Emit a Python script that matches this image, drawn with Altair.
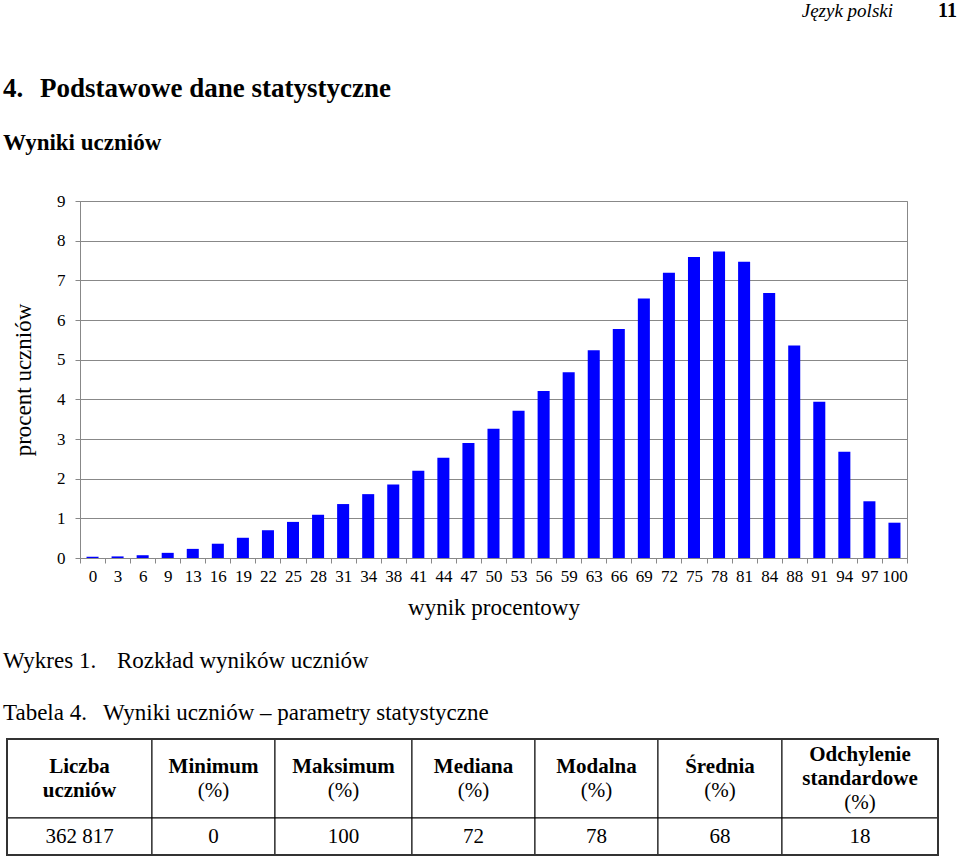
import altair as alt
import pandas as pd

# ---- data ----
scores = [0, 3, 6, 9, 13, 16, 19, 22, 25, 28, 31, 34, 38, 41, 44, 47, 50,
          53, 56, 59, 63, 66, 69, 72, 75, 78, 81, 84, 88, 91, 94, 97, 100]
percent = [0.03, 0.04, 0.07, 0.13, 0.23, 0.36, 0.51, 0.70, 0.91, 1.09, 1.36,
           1.61, 1.85, 2.20, 2.53, 2.90, 3.26, 3.71, 4.21, 4.68, 5.24, 5.77,
           6.54, 7.19, 7.59, 7.73, 7.47, 6.68, 5.36, 3.94, 2.68, 1.43, 0.89]

table_headers = [["Liczba", "uczniów"], ["Minimum"], ["Maksimum"], ["Mediana"],
                 ["Modalna"], ["Średnia"], ["Odchylenie", "standardowe"]]
table_units = ["", "(%)", "(%)", "(%)", "(%)", "(%)", "(%)"]
table_values = ["362 817", "0", "100", "72", "78", "68", "18"]

# ---- layout constants (pixels) ----
FONT = "Liberation Serif"
W, H = 827, 357
PAD = {"left": 80, "top": 201, "right": 53, "bottom": 301}
col_widths = [145, 123, 137, 123, 123, 124, 156]
row_heights = [79, 37]
LINE_H = 24
TABLE_X = [7 - PAD["left"], 938 - PAD["left"]]
TABLE_Y = [739 - PAD["top"], 855 - PAD["top"]]

# ---- bar chart ----
df_bars = pd.DataFrame({"score": scores, "pct": percent})
bars = alt.Chart(df_bars).mark_bar(
    color="#0000FF", width=alt.RelativeBandSize(0.48)
).encode(
    x=alt.X("score:O",
            scale=alt.Scale(paddingInner=0, paddingOuter=0),
            axis=alt.Axis(title="wynik procentowy", labelAngle=0, tickBand="extent",
                          tickSize=5, tickColor="#888", domainColor="#888",
                          labelFont=FONT, labelFontSize=17, labelColor="black",
                          labelPadding=5, labelOverlap=False,
                          titleFont=FONT, titleFontSize=23, titleFontWeight="normal",
                          titleColor="black", titleBaseline="alphabetic",
                          titleY=56)),
    y=alt.Y("pct:Q",
            scale=alt.Scale(domain=[0, 9], nice=False),
            axis=alt.Axis(title="procent uczniów", values=list(range(10)), grid=True,
                          gridColor="#888", gridWidth=1, tickSize=5, tickColor="#888",
                          domainColor="#888", labelFont=FONT, labelFontSize=17,
                          labelColor="black", labelPadding=10,
                          titleFont=FONT, titleFontSize=23, titleFontWeight="normal",
                          titleColor="black", titleAngle=-90,
                          titleBaseline="alphabetic", titleX=-50, titleY=H / 2,
                          titleAlign="center")),
)

# ---- table ----
cells = []
texts = []
x_edges = [0]
for w in col_widths:
    x_edges.append(x_edges[-1] + w)
y_edges = [0, row_heights[0], row_heights[0] + row_heights[1]]
for i in range(len(table_values)):
    x0, x1 = x_edges[i], x_edges[i + 1]
    xc = (x0 + x1) / 2
    cells.append({"x0": x0, "x1": x1, "y0": y_edges[0], "y1": y_edges[1]})
    cells.append({"x0": x0, "x1": x1, "y0": y_edges[1], "y1": y_edges[2]})
    lines = [(t, "bold") for t in table_headers[i]]
    if table_units[i]:
        lines.append((table_units[i], "normal"))
    n = len(lines)
    yc = row_heights[0] / 2
    for k, (t, wgt) in enumerate(lines):
        texts.append({"xc": xc, "yc": yc + (k - (n - 1) / 2) * LINE_H, "t": t, "w": wgt})
    texts.append({"xc": xc, "yc": row_heights[0] + row_heights[1] / 2,
                  "t": table_values[i], "w": "normal"})
df_cells = pd.DataFrame(cells)
df_texts = pd.DataFrame(texts)
df_outer = pd.DataFrame([{"x0": 0, "x1": x_edges[-1], "y0": 0, "y1": y_edges[-1]}])

tx = alt.Scale(domain=[0, x_edges[-1]], range=TABLE_X, nice=False, zero=False)
ty = alt.Scale(domain=[0, y_edges[-1]], range=TABLE_Y, nice=False, zero=False)

table_cells = alt.Chart(df_cells).mark_rect(fill="white", stroke="black", strokeWidth=1).encode(
    x=alt.X("x0:Q", scale=tx, axis=None), x2="x1:Q",
    y=alt.Y("y0:Q", scale=ty, axis=None), y2="y1:Q")
table_outer = alt.Chart(df_outer).mark_rect(fill=None, stroke="#333", strokeWidth=2).encode(
    x=alt.X("x0:Q", scale=tx, axis=None), x2="x1:Q",
    y=alt.Y("y0:Q", scale=ty, axis=None), y2="y1:Q")
table_bold = alt.Chart(df_texts).transform_filter(alt.datum.w == "bold").mark_text(
    font=FONT, fontSize=21, fontWeight="bold", color="black", baseline="middle", align="center"
).encode(x=alt.X("xc:Q", scale=tx, axis=None), y=alt.Y("yc:Q", scale=ty, axis=None), text="t:N")
table_norm = alt.Chart(df_texts).transform_filter(alt.datum.w == "normal").mark_text(
    font=FONT, fontSize=21, color="black", baseline="middle", align="center"
).encode(x=alt.X("xc:Q", scale=tx, axis=None), y=alt.Y("yc:Q", scale=ty, axis=None), text="t:N")


# ---- page texts ----
def label(text, px, py, size, weight="normal", style="normal", align="left"):
    return alt.Chart(alt.Data(values=[{}])).mark_text(
        font=FONT, fontSize=size, fontWeight=weight, fontStyle=style,
        color="black", align=align, baseline="alphabetic"
    ).encode(x=alt.value(px - PAD["left"]), y=alt.value(py - PAD["top"]),
             text=alt.value(text))


page_texts = [
    label("Język polski", 893, 17, 19, style="italic", align="right"),
    label("11", 957, 17, 20, weight="bold", align="right"),
    label("4.", 3, 97, 27, weight="bold"),
    label("Podstawowe dane statystyczne", 40, 97, 27, weight="bold"),
    label("Wyniki uczniów", 3, 150, 23, weight="bold"),
    label("Wykres 1.", 3, 668, 23),
    label("Rozkład wyników uczniów", 117, 668, 23),
    label("Tabela 4.", 3, 720, 23),
    label("Wyniki uczniów – parametry statystyczne", 103, 720, 23),
]

chart = alt.layer(
    bars, table_cells, table_outer, table_bold, table_norm, *page_texts
).resolve_scale(x="independent", y="independent").properties(
    width=W, height=H, padding=PAD, autosize=alt.AutoSizeParams(type="none"),
    background="white"
).configure_view(stroke="#888", strokeWidth=1).configure_axis(
    labelFont=FONT, labelFontSize=17, labelColor="black",
    titleFont=FONT, titleFontSize=23, titleFontWeight="normal", titleColor="black"
)

chart.save("out.html", embed_options={"renderer": "svg", "actions": False})
